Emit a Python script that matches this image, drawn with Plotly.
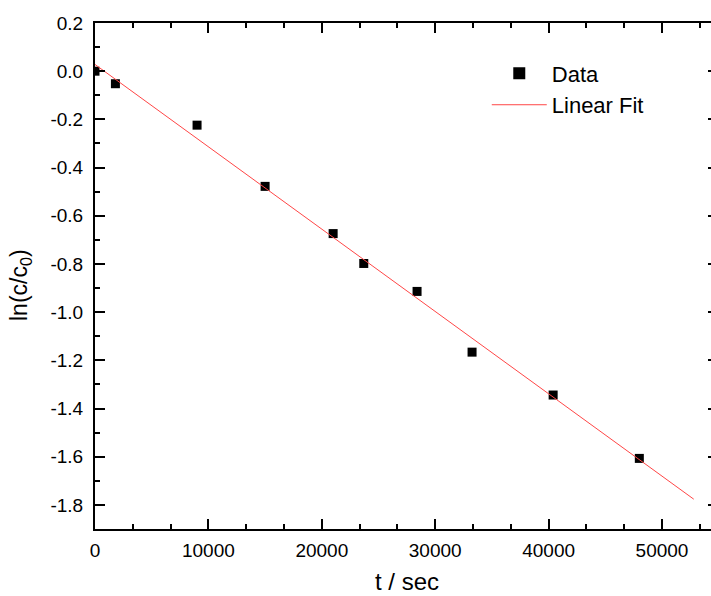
import numpy as np
import plotly.graph_objects as go

# measured time (s) and ln(c/c0)
t_sec = [0, 1800, 9000, 15000, 21000, 23700, 28400, 33250, 40400, 48000]
ln_ratio = [0.0, -0.052, -0.224, -0.478, -0.674, -0.798, -0.914, -1.166, -1.344, -1.607]
t_fit_span = [0, 52800]

x_ticks = [0, 10000, 20000, 30000, 40000, 50000]
y_ticks = [0.2, 0.0, -0.2, -0.4, -0.6, -0.8, -1.0, -1.2, -1.4, -1.6, -1.8]
y_tick_text = ["0.2", "0.0", "-0.2", "-0.4", "-0.6", "-0.8", "-1.0", "-1.2", "-1.4", "-1.6", "-1.8"]

slope, intercept = np.polyfit(t_sec, ln_ratio, 1)
fit_x = np.array(t_fit_span, dtype=float)
fit_y = slope * fit_x + intercept

FONT = "Arial, Liberation Sans, sans-serif"
W, H = 711, 596
ML, MT, MB = 95, 23, 67
plot_w, plot_h = W - ML, H - MT - MB

fig = go.Figure()
fig.add_trace(go.Scatter(
    x=t_sec, y=ln_ratio, mode="markers", name="Data", showlegend=False,
    marker=dict(symbol="square", size=9, color="black"),
))
# legend swatch for the data series
fig.add_trace(go.Scatter(
    x=[None], y=[None], mode="markers", name="Data",
    marker=dict(symbol="square", size=12, color="black"),
))
fig.add_trace(go.Scatter(
    x=fit_x, y=fit_y, mode="lines", name="Linear Fit",
    line=dict(color="rgb(255,70,70)", width=1),
))
# right-hand tick marks
fig.add_trace(go.Scatter(x=[None], y=[None], yaxis="y2", showlegend=False, hoverinfo="skip"))

fig.update_layout(
    width=W, height=H,
    margin=dict(l=ML, r=0, t=MT, b=MB),
    paper_bgcolor="white", plot_bgcolor="white",
    font=dict(family=FONT, size=19, color="black"),
    xaxis=dict(
        range=[0, 54320], showgrid=False, zeroline=False, automargin=False,
        showline=True, linecolor="black", linewidth=2, mirror="ticks",
        ticks="inside", ticklen=10, tickwidth=2, tickcolor="black",
        tickvals=x_ticks, ticktext=[str(v) for v in x_ticks],
        minor=dict(dtick=10000 / 3, tick0=0, ticks="inside", ticklen=5, tickwidth=2, tickcolor="black"),
        tickfont=dict(size=19), ticklabelstandoff=3,
    ),
    yaxis=dict(
        range=[-1.9, 0.2], showgrid=False, zeroline=False, automargin=False,
        showline=True, linecolor="black", linewidth=2, mirror=False,
        ticks="inside", ticklen=10, tickwidth=2, tickcolor="black",
        tickvals=y_ticks, ticktext=y_tick_text,
        minor=dict(dtick=0.1, tick0=0, ticks="inside", ticklen=5, tickwidth=2, tickcolor="black"),
        tickfont=dict(size=19), ticklabelstandoff=6,
    ),
    yaxis2=dict(
        overlaying="y", side="right", anchor="x", range=[-1.9, 0.2],
        showgrid=False, zeroline=False, showline=False, automargin=False,
        ticks="inside", ticklen=3, tickwidth=2, tickcolor="black",
        tickvals=y_ticks, showticklabels=False,
    ),
    legend=dict(
        x=0.636, y=0.942, xanchor="left", yanchor="top",
        bgcolor="rgba(0,0,0,0)", font=dict(size=22), itemwidth=55,
        tracegroupgap=0,
    ),
    showlegend=True,
    annotations=[
        dict(
            text="ln(c/c<sub>0</sub>)", textangle=-90, showarrow=False,
            xref="paper", yref="paper",
            x=(20 - ML) / plot_w, y=(H - MB - 285) / plot_h,
            xanchor="center", yanchor="middle",
            font=dict(size=23),
        ),
        dict(
            text="t / sec", showarrow=False,
            xref="paper", yref="paper",
            x=(407 - ML) / plot_w, y=(H - MB - 581) / plot_h,
            xanchor="center", yanchor="middle",
            font=dict(size=24),
        ),
    ],
)

fig.write_html("out.html")
